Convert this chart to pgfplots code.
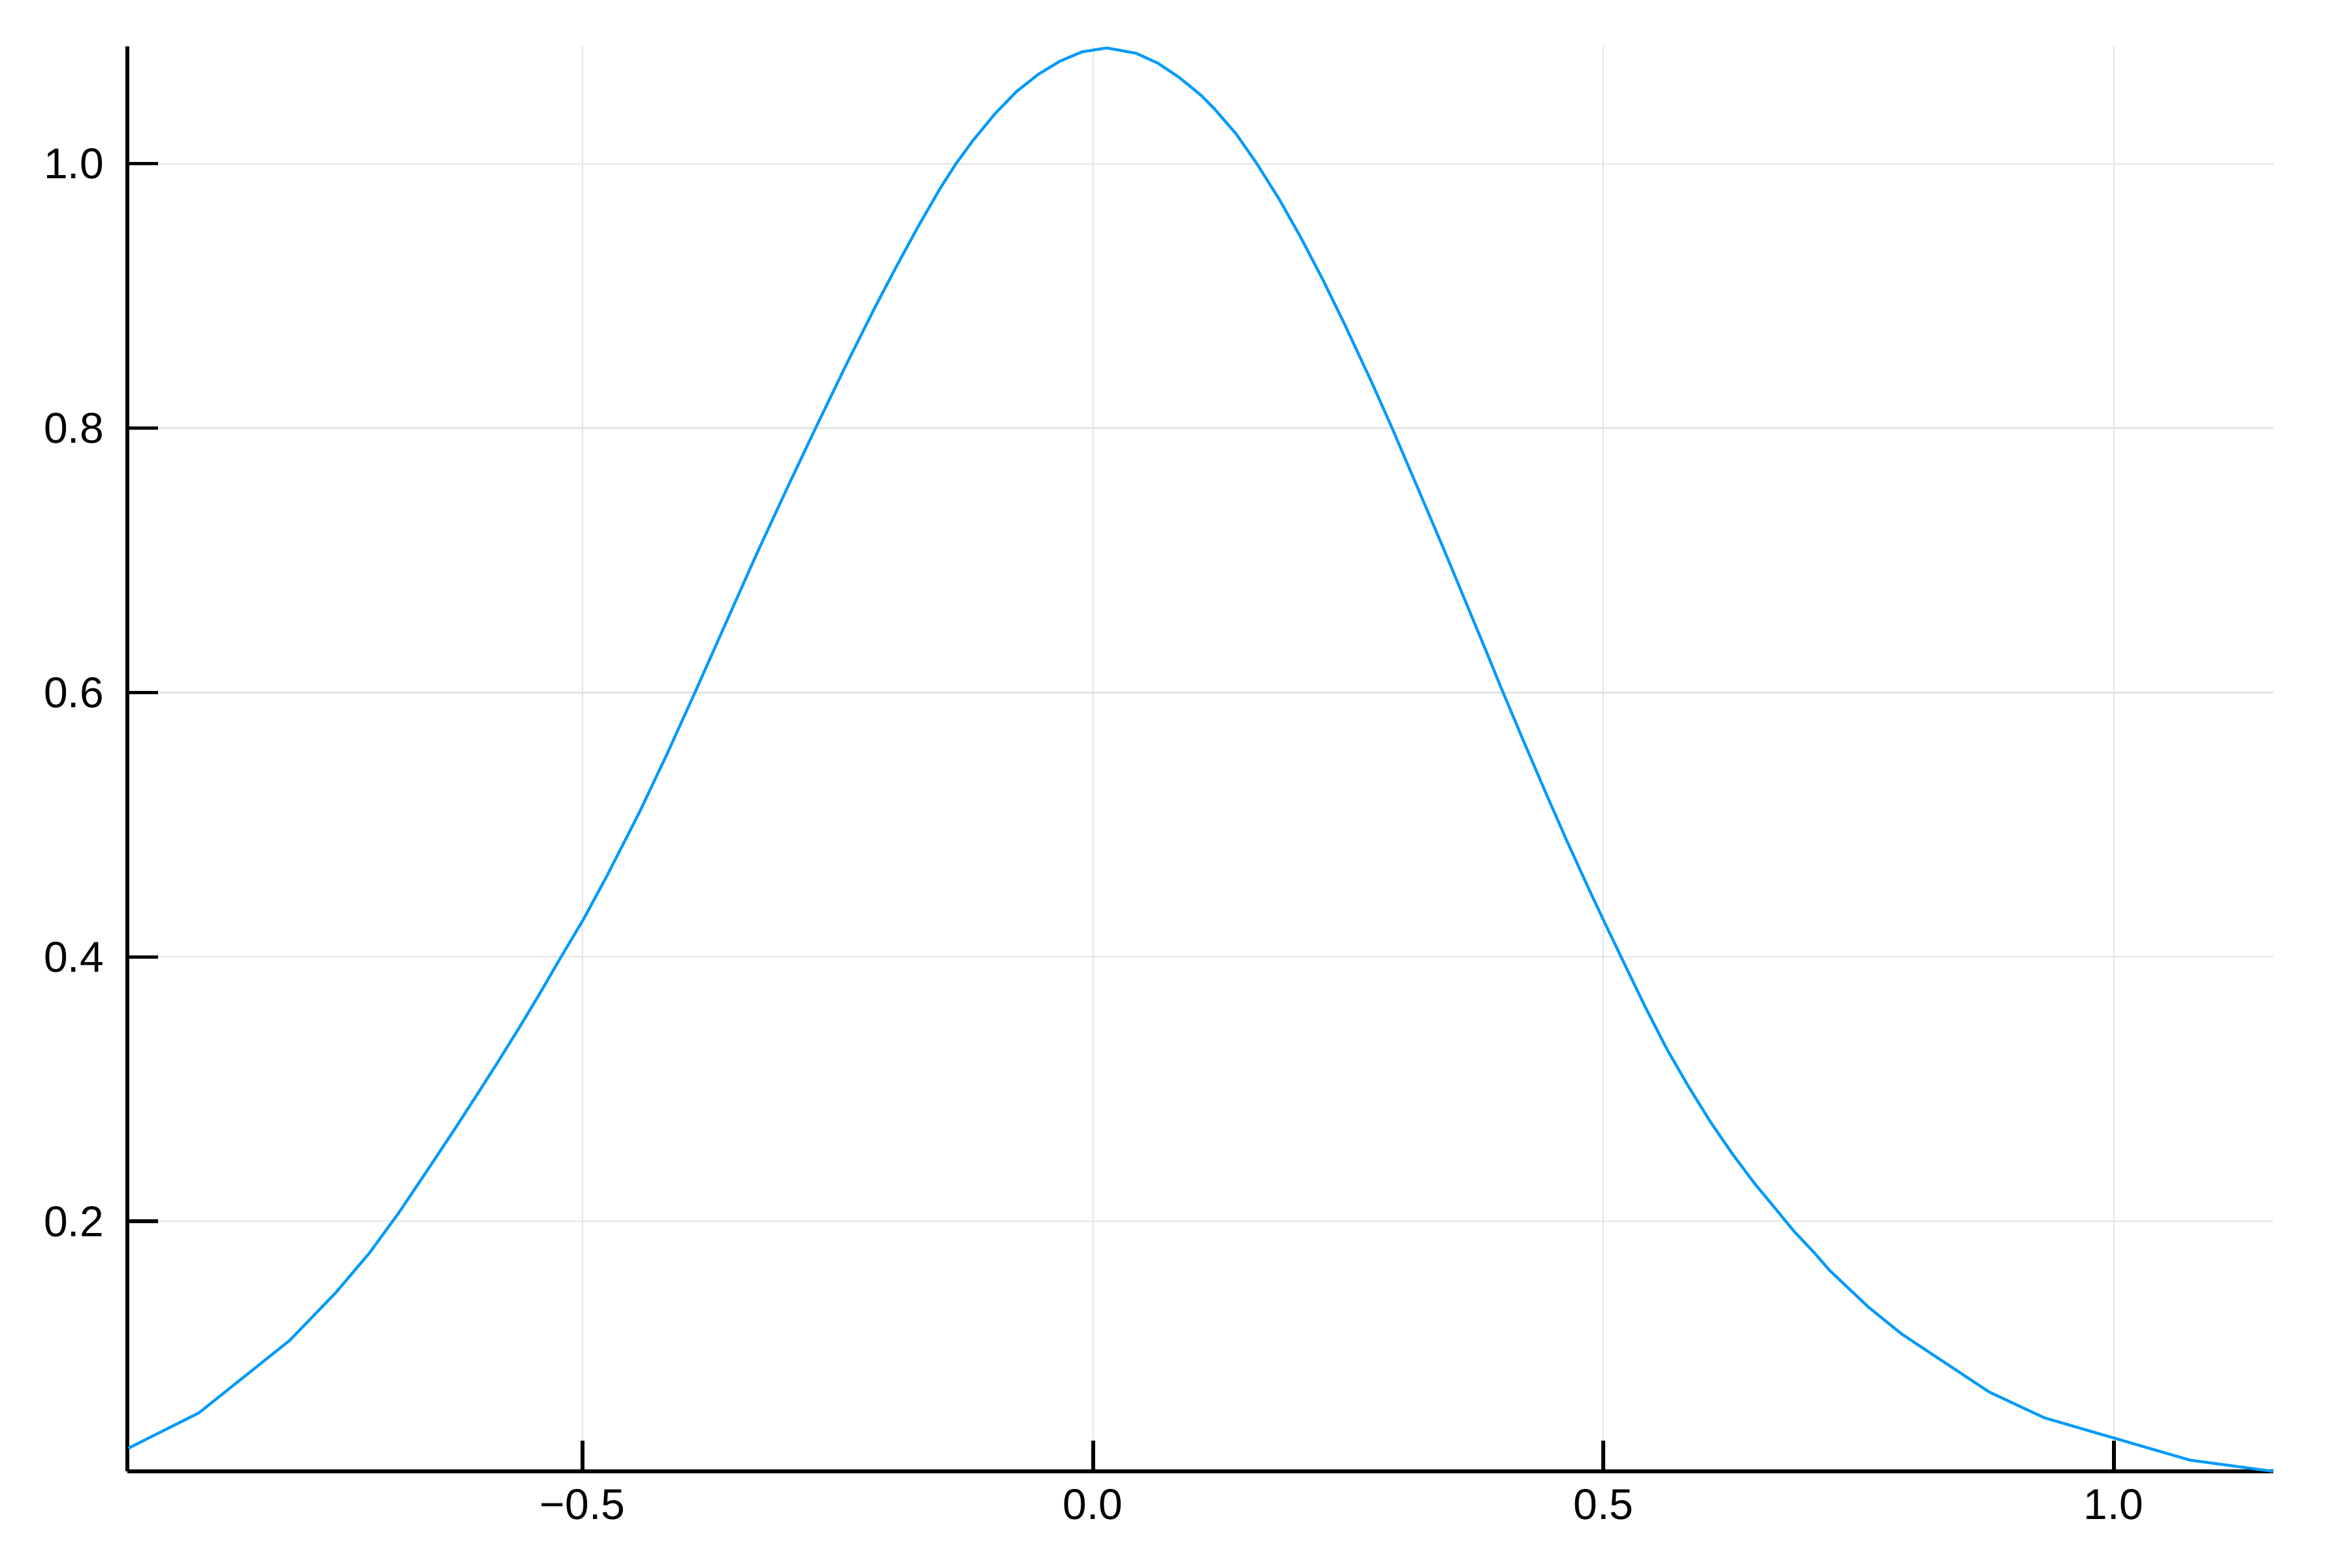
\documentclass[border=0pt]{standalone}
\usepackage{fontspec}
\setmainfont{Liberation Sans}
\usepackage{pgfplots}
\pgfplotsset{compat=1.18}
\definecolor{jblue}{RGB}{0,154,250}

\begin{document}
\begin{tikzpicture}
  \useasboundingbox (0,0) rectangle (600pt,400pt);
  \begin{axis}[at={(32.5pt,24.5pt)}, anchor=south west,
    scale only axis, width=547.6pt, height=363.6pt,
    xmin=-0.946, xmax=1.156, ymin=0.011, ymax=1.0885,
    axis x line*=bottom, axis y line*=left,
    axis line style={-, line width=0.95pt, black},
    every outer x axis line/.append style={-},
    every outer y axis line/.append style={-},
    xtick={-0.5,0,0.5,1}, xticklabels={−0.5,0.0,0.5,1.0},
    ytick={0.2,0.4,0.6,0.8,1.0}, yticklabels={0.2,0.4,0.6,0.8,1.0},
    tick align=inside, major tick length=7.8pt,
    tick style={line width=0.95pt, black},
    tick label style={font=\fontsize{11}{13}\selectfont},
    yticklabel shift=2.5pt, xticklabel shift=1pt,
    grid=major, major grid style={line width=0.35pt, draw=black!11},
    clip=false]
    \addplot[jblue, line width=0.72pt, line join=round] coordinates {
      (-0.945,0.0285) (-0.876,0.0552) (-0.787,0.110) (-0.742,0.146)
      (-0.709,0.176) (-0.6802,0.2064) (-0.6482,0.2432) (-0.6269,0.268)
      (-0.6056,0.2933) (-0.5843,0.319) (-0.563,0.3454) (-0.5417,0.3727)
      (-0.5214,0.3997) (-0.4991,0.4286) (-0.4756,0.4622) (-0.444,0.510)
      (-0.417,0.554) (-0.390,0.600) (-0.360,0.652) (-0.330,0.704)
      (-0.300,0.754) (-0.273,0.798) (-0.243,0.846) (-0.2135,0.8915)
      (-0.1922,0.9228) (-0.1709,0.953) (-0.1496,0.9815) (-0.1342,1.000)
      (-0.1176,1.0175) (-0.0963,1.0375) (-0.075,1.0545) (-0.0537,1.0675)
      (-0.0324,1.0775) (-0.011,1.0845) (0.0134,1.0875) (0.0422,1.0835)
      (0.0635,1.076) (0.0848,1.065) (0.1061,1.0515) (0.1189,1.0415)
      (0.1402,1.0225) (0.1605,1.000) (0.1828,0.9726) (0.2041,0.9434)
      (0.2255,0.9117) (0.2468,0.878) (0.2734,0.834) (0.293,0.800)
      (0.3185,0.754) (0.3444,0.707) (0.3853,0.631) (0.4013,0.6008)
      (0.4215,0.5638) (0.4428,0.5255) (0.4641,0.488) (0.4854,0.452)
      (0.500,0.428) (0.5174,0.400) (0.5408,0.3625) (0.5621,0.3305)
      (0.5834,0.302) (0.6047,0.2755) (0.626,0.2515) (0.6473,0.2295)
      (0.6687,0.2095) (0.6868,0.1925) (0.707,0.176) (0.7216,0.163)
      (0.760,0.135) (0.792,0.115) (0.833,0.094) (0.878,0.071)
      (0.932,0.0515) (1.0746,0.0195) (1.156,0.011)};
  \end{axis}
\end{tikzpicture}
\end{document}
